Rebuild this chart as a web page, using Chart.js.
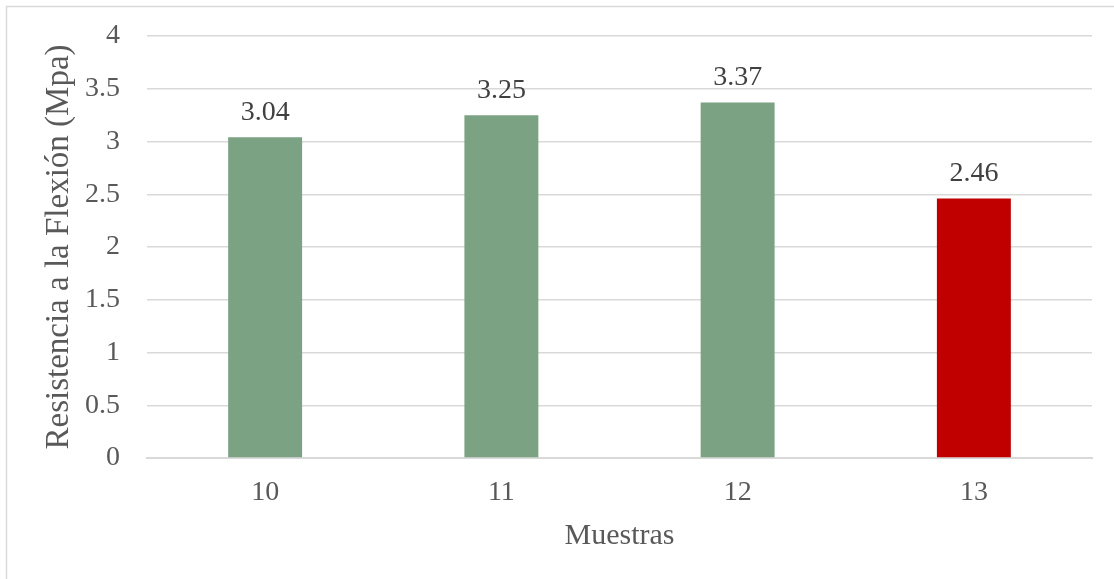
<!DOCTYPE html>
<html>
<head>
<meta charset="utf-8">
<script src="https://cdn.jsdelivr.net/npm/chart.js@4"></script>
<style>
  html, body { margin: 0; padding: 0; background: #fff; }
  #wrap { width: 1114px; height: 579px; position: relative; }
</style>
</head>
<body>
<div id="wrap"><canvas id="flexChart"></canvas></div>
<script>
// Flexural strength per sample
const muestras = ["10", "11", "12", "13"];
const resistencia = [3.04, 3.25, 3.37, 2.46];
const barColors = ["#7BA283", "#7BA283", "#7BA283", "#C00000"];
const yTicks = [0, 0.5, 1, 1.5, 2, 2.5, 3, 3.5, 4];

const serif = "'Liberation Serif', 'Times New Roman', serif";
const tickSize = 28;

// -----------------------------
// Value labels above each bar
// -----------------------------
const valueLabels = {
  id: "valueLabels",
  afterDatasetsDraw(chart) {
    const ctx = chart.ctx;
    const meta = chart.getDatasetMeta(0);
    ctx.save();
    ctx.font = tickSize + "px " + serif;
    ctx.fillStyle = "#404040";
    ctx.textAlign = "center";
    ctx.textBaseline = "alphabetic";
    meta.data.forEach((bar, i) => {
      ctx.fillText(resistencia[i].toFixed(2), bar.x, bar.y - 17);
    });
    ctx.restore();
  }
};

// -----------------------------
// Light frame around the chart
// -----------------------------
const frame = {
  id: "frame",
  beforeDraw(chart) {
    const ctx = chart.ctx;
    ctx.save();
    ctx.fillStyle = "#fff";
    ctx.fillRect(0, 0, chart.width, chart.height);
    ctx.strokeStyle = "#d9d9d9";
    ctx.lineWidth = 1.5;
    ctx.strokeRect(6.5, 6.5, chart.width + 10, chart.height + 10);
    ctx.restore();
  }
};

new Chart(document.getElementById("flexChart"), {
  type: "bar",
  data: {
    labels: muestras,
    datasets: [{
      data: resistencia,
      backgroundColor: barColors,
      barPercentage: 0.313,
      categoryPercentage: 1
    }]
  },
  options: {
    responsive: true,
    maintainAspectRatio: false,
    animation: false,
    layout: { padding: { left: 0, right: 22, top: 36, bottom: 0 } },
    plugins: {
      legend: { display: false },
      tooltip: { enabled: false }
    },
    scales: {
      x: {
        grid: { display: false, drawTicks: false },
        border: { color: "#d9d9d9", width: 2 },
        ticks: {
          color: "#595959",
          font: { family: serif, size: tickSize },
          padding: 18
        },
        title: {
          display: true,
          text: "Muestras",
          color: "#595959",
          font: { family: serif, size: 30 },
          padding: { top: 10, bottom: 25 }
        },
        afterFit(scale) { scale.height = 121; }
      },
      y: {
        min: 0,
        max: 4,
        afterBuildTicks(scale) {
          scale.ticks = yTicks.map(v => ({ value: v }));
        },
        grid: { color: "#d9d9d9", lineWidth: 1.5, drawTicks: false },
        border: { display: false },
        ticks: {
          color: "#595959",
          font: { family: serif, size: tickSize, lineHeight: 0.5 },
          padding: 27,
          callback: v => String(v)
        },
        title: {
          display: true,
          text: "Resistencia a la Flexión (Mpa)",
          color: "#595959",
          font: { family: serif, size: 33 },
          padding: { top: 40, bottom: 0 }
        },
        afterFit(scale) {
          scale.width = 147;
          scale.paddingTop = 0;
          scale.paddingBottom = 0;
        }
      }
    }
  },
  plugins: [frame, valueLabels]
});
</script>
</body>
</html>
